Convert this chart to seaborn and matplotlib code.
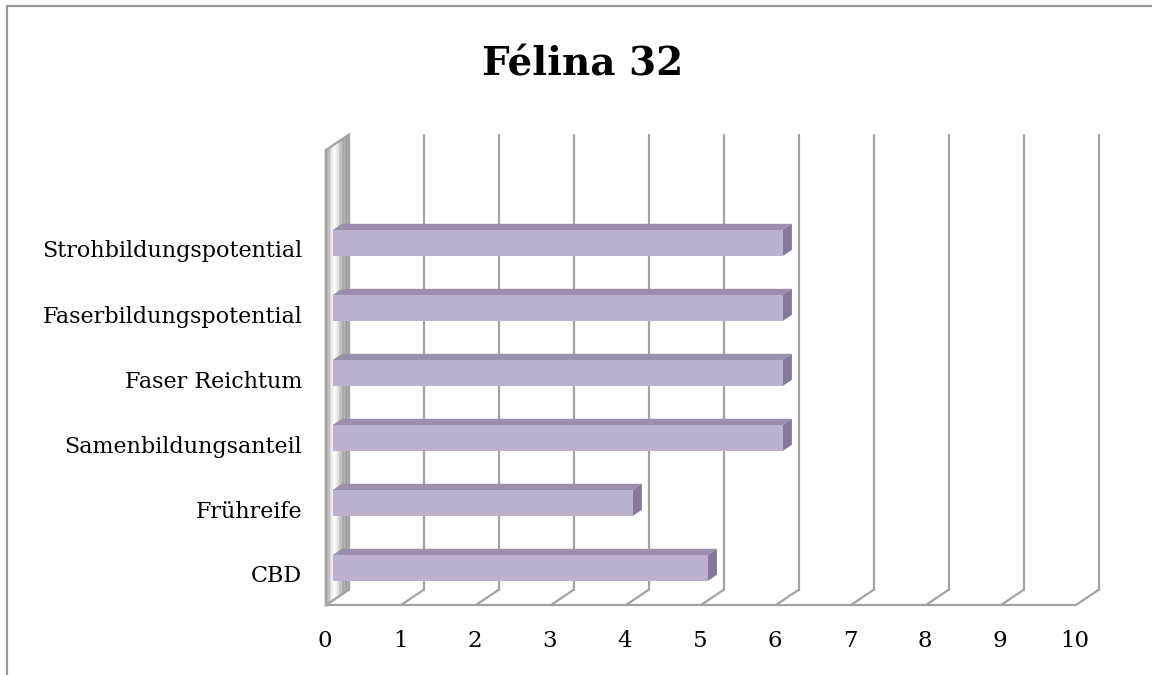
import matplotlib
matplotlib.use("Agg")
import matplotlib.pyplot as plt
import matplotlib.transforms as mtransforms
from matplotlib.lines import Line2D
from matplotlib.patches import Polygon
import seaborn as sns
import pandas as pd
import numpy as np

sns.set_style("white")
plt.rcParams['font.family'] = ['DejaVu Serif']
plt.rcParams['text.color'] = 'black'
plt.rcParams['xtick.color'] = 'black'
plt.rcParams['ytick.color'] = 'black'

# data
title = "Félina 32"
categories = ["Strohbildungspotential", "Faserbildungspotential", "Faser Reichtum",
              "Samenbildungsanteil", "Frühreife", "CBD"]
values = [6, 6, 6, 6, 4, 5]
x_ticks = list(range(0, 11))

FRONT = "#bdb1d0"
TOP = "#9c8fae"
SIDE = "#85789b"
GRID = "#a3a3a3"

df = pd.DataFrame({"Merkmal": categories, "Wert": values})

W, H = 1152, 675
fig = plt.figure(figsize=(W / 100, H / 100), dpi=100)
ax = fig.add_axes([332.7 / W, 1 - 600.5 / H, 750 / W, 455 / H])

sns.barplot(data=df, x="Wert", y="Merkmal", orient="h", color=FRONT,
            saturation=1, width=0.4, linewidth=0, ax=ax, zorder=2)

ax.set_xlim(0, 10)
ax.set_ylim(5.5, -1.5)

# fake 3d: depth t=0 front, t=1 back wall, bars sit between 0.3 and 0.7
PX_X = 10 / 750
PX_Y = 7 / 455
DEPTH = (23.0, -15.5)


def shift(x, y, t):
    return x + (t - 0.3) * DEPTH[0] * PX_X, y + (t - 0.3) * DEPTH[1] * PX_Y


y_top, y_bot = ax.get_ylim()[1], ax.get_ylim()[0]

# back wall grid + floor
for v in x_ticks:
    xa, ya = shift(v, y_top, 1)
    xb, yb = shift(v, y_bot, 1)
    ax.plot([xa, xb], [ya, yb], color=GRID, lw=1.6, clip_on=False, zorder=0.5)
    xf, yf = shift(v, y_bot, 0)
    ax.plot([xf, xb], [yf, yb], color=GRID, lw=1.6, clip_on=False, zorder=0.5)
xa, ya = shift(x_ticks[0], y_bot, 0)
xb, yb = shift(x_ticks[-1], y_bot, 0)
ax.plot([xa, xb], [ya, yb], color=GRID, lw=1.6, clip_on=False, zorder=0.6)

# left side wall with a grey gradient
n = 16
for i in range(n):
    t0, t1 = i / n, (i + 1) / n
    tm = (t0 + t1) / 2
    g = 0.62 + 0.37 * np.sin(np.pi * (tm ** 0.7)) ** 4
    pts = [shift(0, y_top, t0), shift(0, y_top, t1), shift(0, y_bot, t1), shift(0, y_bot, t0)]
    ax.add_patch(Polygon(pts, closed=True, facecolor=(g, g, g), edgecolor="none",
                         clip_on=False, zorder=0.7))
wall = [shift(0, y_top, 0), shift(0, y_top, 1), shift(0, y_bot, 1), shift(0, y_bot, 0)]
ax.add_patch(Polygon(wall, closed=True, facecolor="none", edgecolor=GRID, lw=1.6,
                     clip_on=False, zorder=0.8))

# bar top and side faces
ddx = 0.4 * DEPTH[0] * PX_X
ddy = 0.4 * DEPTH[1] * PX_Y
for p in list(ax.patches):
    if p.get_facecolor()[:3] != matplotlib.colors.to_rgb(FRONT):
        continue
    x0, w = p.get_x(), p.get_width()
    yt, yb = p.get_y(), p.get_y() + p.get_height()
    top = [(x0, yt), (x0 + w, yt), (x0 + w + ddx, yt + ddy), (x0 + ddx, yt + ddy)]
    side = [(x0 + w, yt), (x0 + w, yb), (x0 + w + ddx, yb + ddy), (x0 + w + ddx, yt + ddy)]
    ax.add_patch(Polygon(top, closed=True, facecolor=TOP, edgecolor="none", zorder=1.9, clip_on=False))
    ax.add_patch(Polygon(side, closed=True, facecolor=SIDE, edgecolor="none", zorder=1.9, clip_on=False))

# axes text
sns.despine(ax=ax, left=True, bottom=True)
ax.set_xlabel("")
ax.set_ylabel("")
ax.set_xticks(x_ticks)
ax.set_xticklabels([str(v) for v in x_ticks])
ax.tick_params(axis="x", length=0, pad=21, labelsize=16.5)
ax.tick_params(axis="y", length=0, pad=22, labelsize=16)
dx_front = mtransforms.ScaledTranslation(-7.7 / 100, 0, fig.dpi_scale_trans)
dy_front = mtransforms.ScaledTranslation(0, -6 / 100, fig.dpi_scale_trans)
for lab in ax.get_xticklabels():
    lab.set_transform(lab.get_transform() + dx_front)
for lab in ax.get_yticklabels():
    lab.set_transform(lab.get_transform() + dy_front)
ax.grid(False)

fig.text(583 / W, 1 - 64 / H, title, ha="center", va="center", fontsize=28, fontweight="bold")

# chart border (top and left)
fig.add_artist(Line2D([7 / W, 1], [1 - 6 / H, 1 - 6 / H], color="#9a9a9a", lw=1.6))
fig.add_artist(Line2D([7 / W, 7 / W], [1 - 6 / H, 0], color="#9a9a9a", lw=1.6))

fig.savefig("out.png", dpi=100, facecolor="white")
